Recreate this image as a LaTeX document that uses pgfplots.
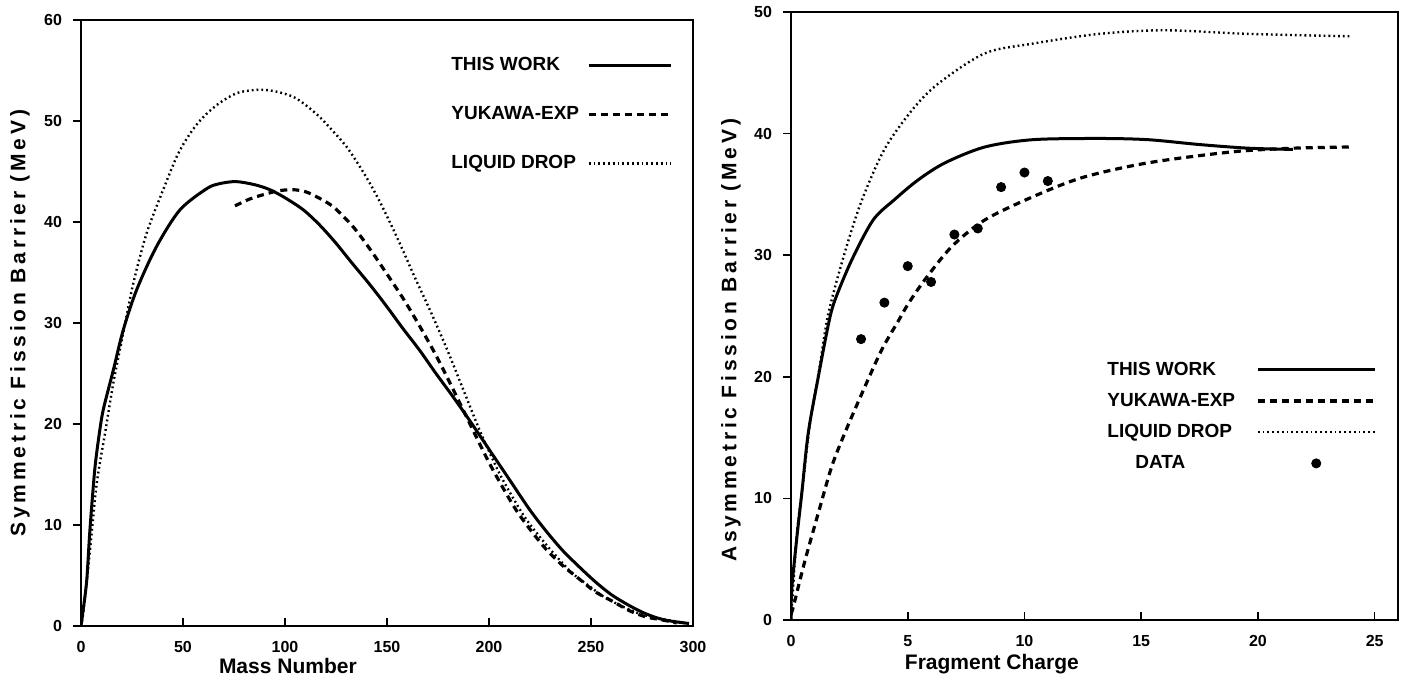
\documentclass[border=0pt]{standalone}
\usepackage{fontspec}
\setmainfont{Liberation Sans}
\usepackage{pgfplots}
\pgfplotsset{compat=1.18}
\pgfplotsset{
  myaxis/.style={
    scale only axis,
    axis line style={line width=1.2pt},
    xtick pos=bottom, ytick pos=left,
    xtick align=inside, ytick align=outside,
    major tick length=4pt,
    tick style={line width=0.8pt, black},
    /pgf/number format/assume math mode=true,
    tick label style={font=\bfseries\fontsize{8}{9}\selectfont},
    xticklabel style={yshift=-4pt},
    yticklabel style={xshift=-2pt},
    label style={font=\bfseries\fontsize{10.5}{12}\selectfont},
    legend plot pos=right,
    legend cell align=left,
    legend style={draw=none, fill=none, inner sep=0pt,
      font=\bfseries\fontsize{9.5}{11}\selectfont},
  },
  tw/.style={black, line width=1.5pt, smooth},
  yk/.style={black, line width=1.6pt, dash pattern=on 3.5pt off 2.5pt, smooth},
  ld/.style={black, line width=1.2pt, dash pattern=on 0.9pt off 1.5pt, smooth},
  leftleg/.style={legend image code/.code={\draw[##1] (0pt,0pt) -- (41pt,0pt);}},
  rightleg/.style={legend image code/.code={\draw[##1] (0pt,0pt) -- (58.5pt,0pt);}},
  dataleg/.style={legend image code/.code={\draw[##1] plot coordinates {(29.25pt,0pt)};\path (0pt,0pt) (58.5pt,0pt);}},
}
\begin{document}
\begin{tikzpicture}
\path[use as bounding box] (0,0) rectangle (706pt,341pt);
% ---------------- left panel ----------------
\begin{axis}[myaxis, leftleg,
  at={(40.5pt,28pt)}, anchor=south west,
  width=306pt, height=303pt,
  xmin=0, xmax=300, ymin=0, ymax=60,
  xtick={0,50,...,300}, ytick={0,10,...,60},
  xlabel={Mass Number},
  ylabel={\addfontfeatures{LetterSpace=18}Symmetric Fission Barrier (MeV)},
  xlabel style={at={(axis description cs:0.338,0)}, anchor=center, yshift=-20pt},
  ylabel style={at={(axis description cs:-0.0997,0.5)}, anchor=center},
  legend style={at={(0.598,0.946)}, anchor=north west, row sep=12.5pt, column sep=2pt},
]
\addplot[tw] coordinates {
(0,0) (1,1.5) (2.8,4.5) (4.2,9) (5.5,12.5) (6.9,15.8) (8.8,18.8) (10.9,21.4)
(15.8,25.3) (20.7,29.3) (27.3,33.3) (37.1,37.6) (48.5,41.2) (61.6,43.3) (68,43.8)
(76,44) (85,43.7) (92.6,43.2) (100,42.4) (109,41.2) (117,39.7) (125,37.9)
(133,35.9) (142,33.7) (150,31.6) (158,29.4) (166,27.3) (174,25.0) (182,22.8)
(190,20.5) (200,17.5) (210,14.5) (220,11.5) (228,9.4) (236,7.5) (244,5.9)
(252,4.4) (260,3.1) (269,2.0) (277,1.2) (286,0.6) (298,0.25)
};
\addlegendentry{THIS WORK}
\addplot[yk] coordinates {
(75.5,41.6) (83,42.3) (91,42.8) (97,43.1) (104,43.2) (110,43.0) (115.5,42.5)
(123.7,41.5) (133.5,39.5) (141.7,37.3) (149.8,34.9) (158,32.4) (166,29.7)
(174,26.8) (182,23.6) (190.7,20.0) (200.5,16.0) (212,11.9) (220,9.6) (228,7.6)
(236,6) (244.6,4.6) (252,3.4) (261,2.4) (269,1.5) (277,0.9) (285,0.6) (292,0.3)
};
\addlegendentry{YUKAWA-EXP}
\addplot[ld] coordinates {
(0,0) (1.1,1.3) (4.4,7.5) (7.7,14.1) (11.8,19.1) (15.8,24) (20.7,29) (25.6,33.9)
(32.2,38.9) (40.3,43.2) (47.7,46.8) (55,49.2) (61,50.6) (68,51.8) (77,52.8)
(87.7,53.1) (96,52.9) (104,52.4) (110,51.6) (117,50.4) (123.5,49) (130,47.5)
(136,45.7) (141.7,43.8) (147,41.8) (153,39.3) (158,37.1) (163,34.8) (171,31.3)
(179,27.6) (187.4,23.4) (195.6,19.3) (205.4,15.0) (216.8,11.0) (225,8.8) (233,6.9)
(241,5.2) (249.5,3.9) (257,2.8) (265.8,1.9) (274,1.2) (282,0.8) (293,0.4) (298,0.2)
};
\addlegendentry{LIQUID DROP}
\end{axis}
% ---------------- right panel ----------------
\begin{axis}[myaxis, rightleg,
  at={(395.5pt,31pt)}, anchor=south west,
  width=303.5pt, height=304pt,
  xmin=0, xmax=26, ymin=0, ymax=50,
  xtick={0,5,...,25}, ytick={0,10,...,50},
  xlabel={Fragment Charge},
  ylabel={\addfontfeatures{LetterSpace=18}Asymmetric Fission Barrier (MeV)},
  xlabel style={at={(axis description cs:0.331,0)}, anchor=center, yshift=-22pt},
  ylabel style={at={(axis description cs:-0.0988,0.46)}, anchor=center},
  legend style={at={(0.514,0.432)}, anchor=north west, row sep=3.5pt, column sep=8.5pt},
]
\addplot[tw] coordinates {
(0,0) (0.03,2.5) (0.24,6.6) (0.46,10.4) (0.74,15.4) (1.17,20) (1.6,24.3)
(1.88,26.3) (2.6,29.6) (3.52,32.9) (4.45,34.6) (5.45,36.2) (6.6,37.6) (8.3,38.9)
(10.35,39.5) (13.2,39.6) (15.3,39.5) (17.5,39.1) (19.6,38.8) (21.5,38.7)
};
\addlegendentry{THIS WORK}
\addplot[yk] coordinates {
(0,0.5) (0.1,1.1) (0.6,4.9) (1.17,8.8) (1.74,12.6) (2.31,15.4) (3.03,18.6)
(3.88,22.2) (4.6,24.6) (5.02,26) (5.74,28) (6.88,30.7) (8.3,32.9) (10.35,34.8)
(12.5,36.4) (15.3,37.6) (18.9,38.5) (21.5,38.8) (24,38.9)
};
\addlegendentry{YUKAWA-EXP}
\addplot[ld] coordinates {
(0,0) (0.25,7) (0.5,11) (0.8,16) (1.2,20.5) (1.6,25.2) (2.3,30.2) (3.03,34.5)
(4,38.7) (5.17,41.9) (6.3,44.1) (8.3,46.6) (10.35,47.4) (13.2,48.2) (16,48.5)
(19.6,48.2) (24,48)
};
\addlegendentry{LIQUID DROP}
\addplot[only marks, mark=*, mark size=2.3pt, black, dataleg]
coordinates {
(3,23.1) (4,26.1) (5,29.1) (6,27.8) (7,31.7) (8,32.2) (9,35.6) (10,36.8) (11,36.1)
};
\addlegendentry{\hspace*{14pt}DATA}
\end{axis}
\end{tikzpicture}
\end{document}
